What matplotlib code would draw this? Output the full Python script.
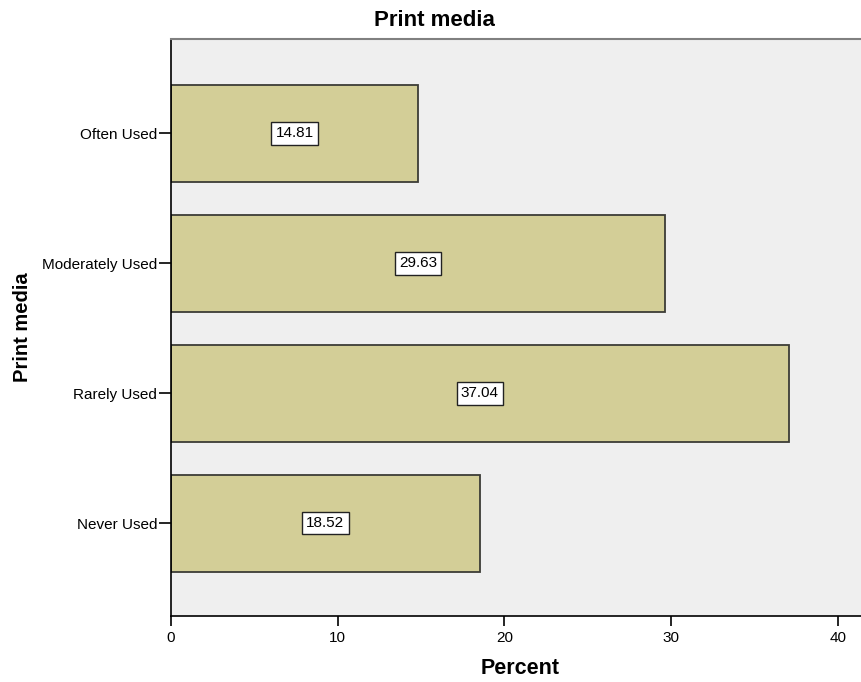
import matplotlib
matplotlib.use("Agg")
import matplotlib.pyplot as plt

plt.rcParams["font.family"] = ["Liberation Sans", "DejaVu Sans"]

categories = ["Never Used", "Rarely Used", "Moderately Used", "Often Used"]
percent = [18.52, 37.04, 29.63, 14.81]

fig = plt.figure(figsize=(8.62, 6.82), dpi=100)
ax = fig.add_axes([171 / 862, 1 - 616 / 682, 1 - 171 / 862, (616 - 39) / 682])
ax.set_facecolor("#efefef")

pos = list(range(len(categories)))
ax.barh(pos, percent, height=0.745, color="#d3ce97", edgecolor="#3c3c36", linewidth=1.3)

# value boxes in the middle of each bar
for y, v in zip(pos, percent):
    ax.text(v / 2, y, f"{v:.2f}", ha="center", va="center", fontsize=11,
            bbox=dict(boxstyle="square,pad=0.28", facecolor="white", edgecolor="#222222", linewidth=1))

ax.set_xlim(0, 41.44)
ax.set_ylim(-0.715, 3.727)
ax.set_xticks([0, 10, 20, 30, 40])
ax.set_yticks(pos)
ax.set_yticklabels(categories)
ax.tick_params(axis="y", length=9, width=1.2, labelsize=11, pad=1)
ax.tick_params(axis="x", length=7, width=1.2, labelsize=11, pad=4)

ax.spines["right"].set_visible(False)
ax.spines["top"].set_color("#808080")
ax.spines["top"].set_linewidth(1.5)
ax.spines["left"].set_linewidth(1.2)
ax.spines["bottom"].set_linewidth(1.2)

# titles placed in figure pixels
fig.text(434 / 862, 1 - 20 / 682, "Print media", ha="center", va="center",
         fontsize=16, fontweight="bold")
fig.text(520 / 862, 1 - 669 / 682, "Percent", ha="center", va="center",
         fontsize=15.5, fontweight="bold")
fig.text(23 / 862, 1 - 327 / 682, "Print media", ha="center", va="center",
         rotation=90, fontsize=14.5, fontweight="bold")

fig.savefig("out.png", dpi=100)
